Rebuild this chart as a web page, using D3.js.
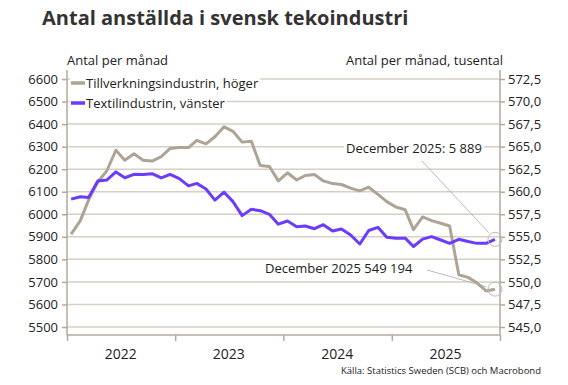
<!DOCTYPE html>
<html>
<head>
<meta charset="utf-8">
<script src="https://cdn.jsdelivr.net/npm/d3@7"></script>
<style>
  body { margin: 0; background: #fff; }
  text { font-family: "Open Sans", Lato, sans-serif; fill: #222; }
</style>
</head>
<body>
<div class="chart"></div>
<script>
var svgWidth = 568;
var svgHeight = 385;

// monthly data, Jan 2022 - Dec 2025
var years = [2022, 2023, 2024, 2025];

// Textilindustrin, antal (left axis)
var textil = [
  6067, 6078, 6074, 6148, 6152, 6188, 6162, 6177, 6176, 6180, 6161, 6177,
  6158, 6126, 6137, 6112, 6063, 6098, 6056, 5994, 6022, 6016, 6000, 5956,
  5970, 5945, 5948, 5936, 5954, 5926, 5935, 5908, 5868, 5928, 5942, 5898,
  5894, 5894, 5857, 5890, 5901, 5886, 5871, 5889, 5879, 5871, 5871, 5889
];

// Tillverkningsindustrin, tusental (right axis)
var tillverkning = [
  555.3, 556.8, 559.1, 561.1, 562.3, 564.6, 563.5, 564.2, 563.5, 563.4, 563.9, 564.8,
  564.9, 564.9, 565.7, 565.3, 566.1, 567.2, 566.7, 565.5, 565.6, 562.9, 562.8, 561.2,
  562.1, 561.3, 561.8, 561.9, 561.2, 560.9, 560.8, 560.4, 560.1, 560.5, 559.7, 558.9,
  558.3, 558.0, 555.8, 557.2, 556.8, 556.5, 556.2, 550.8, 550.5, 549.9, 549.0, 549.194
];

var leftTicks = [5500, 5600, 5700, 5800, 5900, 6000, 6100, 6200, 6300, 6400, 6500, 6600];
var rightTicks = [545, 547.5, 550, 552.5, 555, 557.5, 560, 562.5, 565, 567.5, 570, 572.5];

var months = textil.map(function(d, i) {
  return new Date(2022 + Math.floor(i / 12), i % 12, 15);
});

var plot = { left: 67, right: 500, top: 70, bottom: 335 };

var svg = d3.select(".chart")
  .append("svg")
  .attr("width", svgWidth)
  .attr("height", svgHeight);

var x = d3.scaleTime()
  .domain([new Date(2022, 0, 1), new Date(2026, 0, 1)])
  .range([plot.left, plot.right]);

var yLeft = d3.scaleLinear().domain([5500, 6600]).range([327, 79]);
var yRight = d3.scaleLinear().domain([545, 572.5]).range([327, 79]);

var axisColor = "#b3aa9b";
var gridColor = "#d6d0c5";
var grayLine = "#aea495";
var purpleLine = "#6a3cfb";

// title
svg.append("text")
  .attr("x", 42)
  .attr("y", 25)
  .style("font-size", "20px")
  .style("font-weight", "bold")
  .style("fill", "#333")
  .text("Antal anställda i svensk tekoindustri");

svg.append("text")
  .attr("x", 67)
  .attr("y", 65)
  .style("font-size", "13px")
  .text("Antal per månad");

svg.append("text")
  .attr("x", 503)
  .attr("y", 65)
  .attr("text-anchor", "end")
  .style("font-size", "13px")
  .text("Antal per månad, tusental");

// gridlines
svg.append("g")
  .selectAll("line")
  .data(leftTicks)
  .enter()
  .append("line")
  .attr("x1", plot.left)
  .attr("x2", plot.right)
  .attr("y1", d => yLeft(d))
  .attr("y2", d => yLeft(d))
  .attr("stroke", gridColor)
  .attr("stroke-width", 1.5);

// left axis
var leftAxis = svg.append("g")
  .attr("transform", `translate(${plot.left},0)`)
  .call(d3.axisLeft(yLeft).tickValues(leftTicks).tickSize(5).tickPadding(4).tickFormat(d3.format("d")));
leftAxis.select(".domain").remove();
leftAxis.append("line")
  .attr("y1", plot.top).attr("y2", plot.bottom)
  .attr("stroke", axisColor).attr("stroke-width", 1.5);

// right axis
var rightAxis = svg.append("g")
  .attr("transform", `translate(${plot.right},0)`)
  .call(d3.axisRight(yRight).tickValues(rightTicks).tickSize(5).tickPadding(3)
    .tickFormat(d => d3.format(".1f")(d).replace(".", ",")));
rightAxis.select(".domain").remove();
rightAxis.append("line")
  .attr("y1", plot.top).attr("y2", plot.bottom)
  .attr("stroke", axisColor).attr("stroke-width", 1.5);

// bottom axis
var tickDates = [2022, 2023, 2024, 2025, 2026].map(y => new Date(y, 0, 1));
var bottomAxis = svg.append("g")
  .attr("transform", `translate(0,${plot.bottom})`)
  .call(d3.axisBottom(x).tickValues(tickDates).tickSize(6).tickFormat(""));
bottomAxis.select(".domain").remove();
bottomAxis.append("line")
  .attr("x1", plot.left).attr("x2", plot.right)
  .attr("stroke", axisColor).attr("stroke-width", 1.5);

svg.selectAll(".tick line").attr("stroke", axisColor).attr("stroke-width", 1.5);
svg.selectAll(".tick text")
  .style("font-size", "13px")
  .style("font-family", "'Open Sans', sans-serif")
  .attr("fill", "#222");

svg.append("g")
  .selectAll("text")
  .data(years)
  .enter()
  .append("text")
  .attr("x", d => x(new Date(d, 6, 1)))
  .attr("y", 359)
  .attr("text-anchor", "middle")
  .style("font-size", "14px")
  .text(d => d);

// lines
var lineLeft = d3.line()
  .x((d, i) => x(months[i]))
  .y(d => yLeft(d));

var lineRight = d3.line()
  .x((d, i) => x(months[i]))
  .y(d => yRight(d));

svg.append("path")
  .datum(tillverkning)
  .attr("d", lineRight)
  .attr("fill", "none")
  .attr("stroke", grayLine)
  .attr("stroke-width", 3)
  .attr("stroke-linejoin", "round");

svg.append("path")
  .datum(textil)
  .attr("d", lineLeft)
  .attr("fill", "none")
  .attr("stroke", purpleLine)
  .attr("stroke-width", 3)
  .attr("stroke-linejoin", "round");

// legend
var legendItems = [
  { name: "Tillverkningsindustrin, höger", color: grayLine, y: 83 },
  { name: "Textilindustrin, vänster", color: purpleLine, y: 103 }
];

var legend = svg.append("g");
legendItems.forEach(function(item) {
  var g = legend.append("g");
  var bg = g.append("rect").attr("fill", "#fff");
  g.append("line")
    .attr("x1", 71).attr("x2", 85)
    .attr("y1", item.y).attr("y2", item.y)
    .attr("stroke", item.color)
    .attr("stroke-width", 3.5);
  var t = g.append("text")
    .attr("x", 86)
    .attr("y", item.y + 4.5)
    .style("font-size", "13px")
    .text(item.name);
  var w = t.node().getComputedTextLength();
  bg.attr("x", 70).attr("y", item.y - 8).attr("width", w + 18).attr("height", 16);
});

// annotations
var last = months.length - 1;
var cx = x(months[last]);
var cyT = yLeft(textil[last]);
var cyM = yRight(tillverkning[last]);

function annotate(label, tx, ty, lx1, ly1, cy) {
  var g = svg.append("g");
  var bg = g.append("rect").attr("fill", "#fff");
  var t = g.append("text")
    .attr("x", tx)
    .attr("y", ty)
    .style("font-size", "13px")
    .text(label);
  var w = t.node().getComputedTextLength();
  bg.attr("x", tx - 2).attr("y", ty - 12).attr("width", w + 4).attr("height", 16);
  var ang = Math.atan2(cy - ly1, cx - lx1);
  g.append("line")
    .attr("x1", lx1).attr("y1", ly1)
    .attr("x2", cx - 9 * Math.cos(ang)).attr("y2", cy - 9 * Math.sin(ang))
    .attr("stroke", "#aaa")
    .attr("stroke-width", 0.8);
  g.append("circle")
    .attr("cx", cx).attr("cy", cy).attr("r", 7)
    .attr("fill", "none")
    .attr("stroke", "#bbb")
    .attr("stroke-width", 1);
}

annotate("December 2025: 5 889", 346, 153, 422, 161, cyT);
annotate("December 2025 549 194", 265, 273, 427, 270, cyM);

// source
svg.append("text")
  .attr("x", 541)
  .attr("y", 374)
  .attr("text-anchor", "end")
  .style("font-size", "9.5px")
  .text("Källa: Statistics Sweden (SCB)  och Macrobond");
</script>
</body>
</html>
